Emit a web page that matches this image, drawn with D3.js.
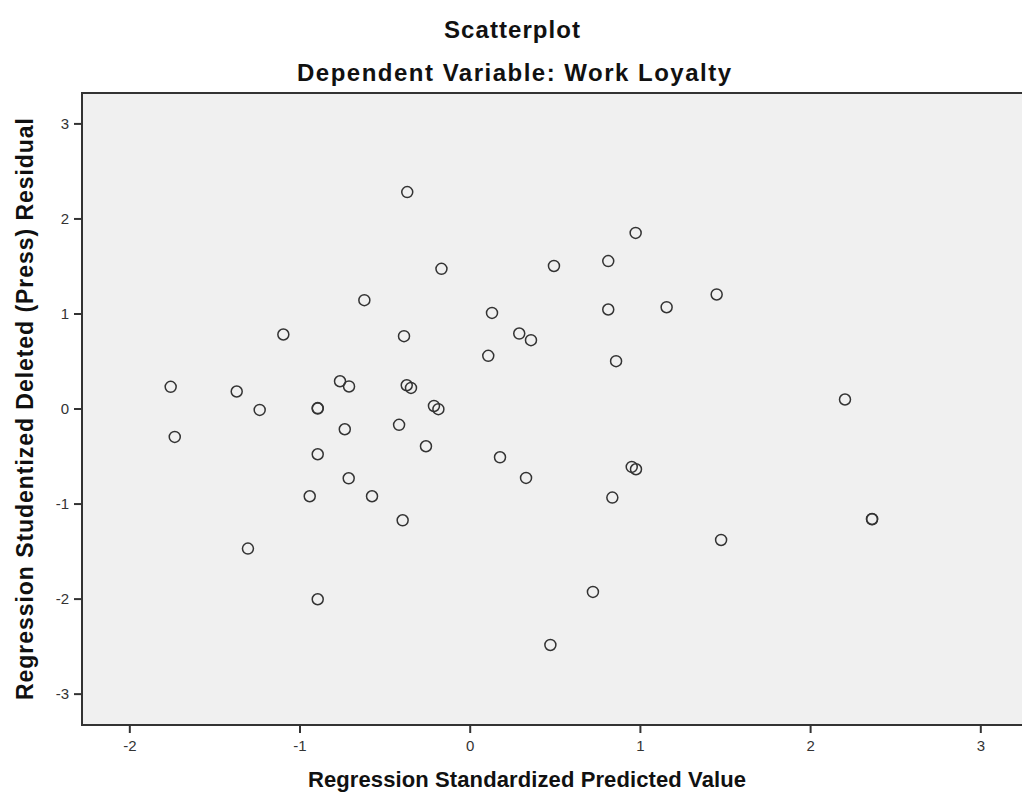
<!DOCTYPE html>
<html>
  <head>
    <meta charset="utf-8">
    <title>Scatterplot</title>
    <script src="https://d3js.org/d3.v7.min.js"></script>
    <style>
      body { margin: 0; background: #fff; }
      text { font-family: "Liberation Sans", Arial, sans-serif; }
    </style>
  </head>
  <body>
  <script>
  // data
    var predicted = [-0.367, 0.975, -0.166, 0.495, 0.814, 1.451, 1.157, 0.814, 0.131, -0.386,
                     0.291, 0.36, 0.109, 0.86, -0.619, -1.095, -1.757, -1.369, -1.234, -0.893,
                     -0.893, -0.762, -0.709, -0.37, -0.345, -0.21, -0.184, -1.733, -0.734, -0.415,
                     -0.257, 0.178, -0.893, -0.711, -0.94, -0.574, -0.394, -1.303, -0.893, 0.331,
                     2.205, 0.952, 0.977, 0.838, 2.364, 2.364, 1.477, 0.724, 0.474];
    var residual = [2.277, 1.848, 1.47, 1.50, 1.551, 1.20, 1.066, 1.042, 1.006, 0.761,
                    0.789, 0.719, 0.554, 0.498, 1.14, 0.779, 0.228, 0.179, -0.015, 0.0,
                    0.005, 0.287, 0.232, 0.245, 0.217, 0.027, -0.007, -0.299, -0.218, -0.172,
                    -0.397, -0.513, -0.481, -0.734, -0.923, -0.923, -1.176, -1.474, -2.007, -0.73,
                    0.095, -0.614, -0.639, -0.937, -1.162, -1.165, -1.383, -1.93, -2.488];
    var xTicks = [-2, -1, 0, 1, 2, 3];
    var yTicks = [-3, -2, -1, 0, 1, 2, 3];

  // basic setting
    var width = 1022;
    var height = 803;
    var margin = {top: 93, right: 0, bottom: 78, left: 82};
    var plotW = width - margin.left - margin.right;
    var plotH = height - margin.top - margin.bottom;

    var x = d3.scaleLinear()
      .domain([-2.278, 3.245])
      .range([0, plotW]);

    var y = d3.scaleLinear()
      .domain([-3.33, 3.32])
      .range([plotH, 0]);

    var svg = d3.select("body").append("svg")
      .attr("width", width)
      .attr("height", height);

    // label helper: bold text fitted to the width seen in the picture
    function label(parent, txt, size, len) {
      return parent.append("text")
        .attr("text-anchor", "middle")
        .attr("font-size", size).attr("font-weight", "bold")
        .attr("fill", "#111")
        .attr("textLength", len)
        .attr("lengthAdjust", "spacing")
        .text(txt);
    }

    label(svg, "Scatterplot", 24, 136).attr("x", 512).attr("y", 38);
    label(svg, "Dependent Variable: Work Loyalty", 24, 434).attr("x", 514).attr("y", 81);

    var g = svg.append("g")
      .attr("transform", "translate(" + margin.left + "," + margin.top + ")");

    // plot background
    g.append("rect")
      .attr("width", plotW + 2)
      .attr("height", plotH)
      .attr("fill", "#f0f0f0")
      .attr("stroke", "#333")
      .attr("stroke-width", 2);

    // axes
    var fmt = function(d) { return String(d); };
    var xAxis = d3.axisBottom(x).tickValues(xTicks).tickFormat(fmt).tickSize(8).tickSizeOuter(0);
    var yAxis = d3.axisLeft(y).tickValues(yTicks).tickFormat(fmt).tickSize(8).tickSizeOuter(0);

    var gx = g.append("g")
      .attr("transform", "translate(0," + plotH + ")")
      .call(xAxis);
    var gy = g.append("g").call(yAxis);

    [gx, gy].forEach(function(a) {
      a.select(".domain").remove();
      a.selectAll(".tick line").attr("stroke", "#333").attr("stroke-width", 2);
      a.selectAll(".tick text")
        .attr("font-size", 15)
        .attr("fill", "#333")
        .style("font-family", "'Liberation Sans', Arial, sans-serif");
    });
    gx.selectAll(".tick text").attr("y", 15).attr("dy", "0.71em");
    gy.selectAll(".tick text").attr("x", -13);

    // axis labels
    label(svg, "Regression Standardized Predicted Value", 22, 438).attr("x", 527).attr("y", 787);
    label(svg, "Regression Studentized Deleted (Press) Residual", 23, 582)
      .attr("transform", "translate(33,409) rotate(-90)");

    // points
    g.selectAll("circle.pt")
      .data(predicted)
      .enter()
      .append("circle")
      .attr("class", "pt")
      .attr("cx", function(d) { return x(d); })
      .attr("cy", function(d, i) { return y(residual[i]); })
      .attr("r", 5.5)
      .attr("fill", "none")
      .attr("stroke", "#333")
      .attr("stroke-width", 1.5);
  </script>
  </body>
</html>
